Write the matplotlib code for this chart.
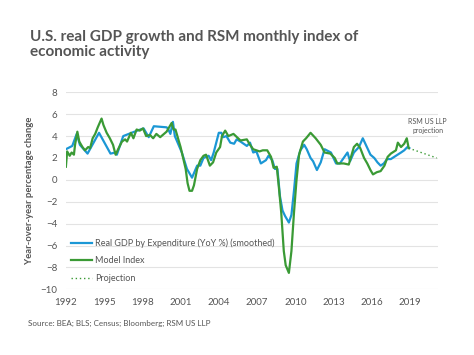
import matplotlib
matplotlib.use("Agg")
import matplotlib.pyplot as plt

plt.rcParams['font.family'] = ['Lato', 'DejaVu Sans']

# Real GDP by expenditure, YoY % (smoothed)
gdp_years = [1992.0, 1992.5, 1992.85, 1993.1, 1993.7, 1994.6, 1995.5, 1995.9, 1996.0,
             1996.5, 1997.6, 1998.1, 1998.5, 1998.9, 1999.9, 2000.0, 2000.2, 2000.4,
             2000.55, 2001.1, 2001.5, 2001.9, 2002.3, 2002.55, 2002.8, 2003.2, 2003.4,
             2003.6, 2004.0, 2004.2, 2004.35, 2004.6, 2004.9, 2005.2, 2005.4, 2005.7,
             2006.2, 2006.45, 2006.7, 2006.95, 2007.3, 2007.7, 2007.9, 2008.2, 2008.4,
             2008.6, 2008.8, 2009.0, 2009.2, 2009.5, 2009.7, 2009.9, 2010.1, 2010.4,
             2010.7, 2010.9, 2011.2, 2011.4, 2011.7, 2012.0, 2012.3, 2012.8, 2013.0,
             2013.2, 2013.5, 2013.8, 2014.1, 2014.3, 2014.6, 2015.0, 2015.3, 2015.5,
             2015.9, 2016.2, 2016.45, 2016.7, 2016.95, 2017.2, 2017.5, 2017.9, 2018.3,
             2018.55, 2018.8, 2018.95]
gdp_vals = [2.8, 3.1, 4.2, 3.2, 2.4, 4.3, 2.4, 2.5, 2.3,
            4.0, 4.5, 4.7, 3.9, 4.9, 4.8, 4.7, 4.2, 5.3,
            4.0, 2.5, 1.0, 0.2, 1.3, 1.3, 2.0, 2.2, 1.8,
            2.5, 4.3, 4.3, 3.9, 4.0, 3.4, 3.3, 3.7, 3.5,
            3.1, 3.4, 2.5, 2.6, 1.5, 1.8, 2.2, 1.8, 1.0,
            1.0, -1.5, -2.8, -3.3, -3.9, -3.2, -1.0, 1.5, 2.7,
            3.2, 2.8, 2.0, 1.7, 0.9, 1.6, 2.8, 2.5, 2.0,
            1.5, 1.5, 2.0, 2.5, 1.7, 2.5, 3.0, 3.8, 3.3,
            2.3, 2.0, 1.6, 1.3, 1.5, 1.9, 1.9, 2.2, 2.5,
            2.7, 3.0, 2.9]

# RSM model index
model_years = [1992.0, 1992.1, 1992.3, 1992.45, 1992.63, 1992.72, 1992.9, 1993.05, 1993.3,
               1993.5, 1993.75, 1993.9, 1994.1, 1994.3, 1994.5, 1994.8, 1994.95, 1995.2,
               1995.45, 1995.7, 1995.9, 1996.1, 1996.4, 1996.65, 1996.8, 1997.1, 1997.3,
               1997.55, 1997.8, 1998.05, 1998.3, 1998.6, 1998.85, 1999.1, 1999.4, 1999.6,
               1999.9, 2000.15, 2000.3, 2000.45, 2000.6, 2001.0, 2001.2, 2001.4, 2001.55,
               2001.7, 2001.9, 2002.05, 2002.3, 2002.55, 2002.8, 2003.0, 2003.3, 2003.55,
               2003.8, 2004.1, 2004.25, 2004.5, 2004.75, 2005.15, 2005.7, 2006.2, 2006.45,
               2006.7, 2007.2, 2007.45, 2007.8, 2008.1, 2008.3, 2008.55, 2008.7, 2008.9,
               2009.1, 2009.25, 2009.5, 2009.7, 2009.9, 2010.1, 2010.3, 2010.6, 2010.85,
               2011.2, 2011.6, 2012.0, 2012.3, 2012.75, 2013.1, 2013.3, 2013.8, 2014.2,
               2014.6, 2014.85, 2015.1, 2015.4, 2015.65, 2015.9, 2016.1, 2016.4, 2016.7,
               2017.0, 2017.25, 2017.5, 2017.9, 2018.05, 2018.3, 2018.55, 2018.75, 2018.9]
model_vals = [1.2, 2.6, 2.2, 2.5, 2.3, 3.2, 4.4, 3.5, 3.0,
              2.7, 3.0, 2.9, 3.8, 4.2, 4.8, 5.6, 5.0, 4.3,
              3.8, 3.2, 2.3, 2.8, 3.5, 3.7, 3.5, 4.3, 3.8,
              4.6, 4.5, 4.7, 4.0, 4.1, 3.8, 4.2, 3.9, 4.1,
              4.4, 4.9, 5.2, 4.6, 4.6, 3.0, 2.0, 1.0, -0.3,
              -1.0, -1.0, -0.5, 1.0, 1.8, 2.2, 2.3, 1.3, 1.6,
              2.5, 3.0, 4.0, 4.5, 4.0, 4.2, 3.6, 3.7, 3.2,
              2.8, 2.6, 2.7, 2.7, 2.1, 1.1, 1.2, -0.5, -3.0,
              -6.5, -7.8, -8.5, -6.5, -3.0, 0.0, 2.3, 3.5, 3.8,
              4.3, 3.8, 3.2, 2.5, 2.4, 2.0, 1.5, 1.5, 1.4,
              3.0, 3.3, 2.9, 2.0, 1.5, 0.9, 0.5, 0.7, 0.8,
              1.3, 2.1, 2.4, 2.7, 3.4, 3.0, 3.3, 3.8, 2.9]

proj_years = [2018.9, 2021.1]
proj_vals = [2.9, 2.0]

tick_years = [1992, 1995, 1998, 2001, 2004, 2007, 2010, 2013, 2016, 2019]
y_ticks = list(range(-10, 9, 2))

blue = '#1b97d5'
green = '#3a9a35'
grey = '#555555'

fig = plt.figure(figsize=(4.74, 3.55), dpi=100)
ax = fig.add_axes([0.139, 0.185, 0.785, 0.555])

ax.plot(gdp_years, gdp_vals, color=blue, linewidth=1.6,
        label='Real GDP by Expenditure (YoY %) (smoothed)')
ax.plot(model_years, model_vals, color=green, linewidth=1.6, label='Model Index')
ax.plot(proj_years, proj_vals, color=green, linewidth=1.0, linestyle=(0, (1, 2)),
        label='Projection')

ax.set_xlim(1992, 2021.2)
ax.set_ylim(-10, 8)
ax.set_xticks(tick_years)
ax.set_yticks(y_ticks)
ax.tick_params(length=0, labelsize=7, colors=grey, pad=6)
ax.grid(axis='y', color='#e3e3e3', linewidth=0.8)
ax.set_axisbelow(True)
for s in ax.spines.values():
    s.set_visible(False)

ax.set_ylabel('Year-over-year percentage change', fontsize=6.8, color=grey,
              fontweight='bold', labelpad=5)

ax.text(2020.4, 4.9, 'RSM US LLP\nprojection', fontsize=5, color=grey,
        ha='center', va='center', linespacing=1.4)

leg = ax.legend(loc='lower left', bbox_to_anchor=(0.0, 0.005), frameon=False,
                fontsize=6.5, handlelength=2.3, handletextpad=0.3,
                labelspacing=0.95, borderaxespad=0.2)
for t in leg.get_texts():
    t.set_color(grey)

fig.text(0.063, 0.915, 'U.S. real GDP growth and RSM monthly index of\neconomic activity',
         fontsize=11, fontweight='bold', color=grey, ha='left', va='top',
         linespacing=1.05)
fig.text(0.06, 0.09, 'Source: BEA; BLS; Census; Bloomberg; RSM US LLP',
         fontsize=5.8, color=grey, ha='left', va='center')

fig.savefig('out.png', dpi=100)
